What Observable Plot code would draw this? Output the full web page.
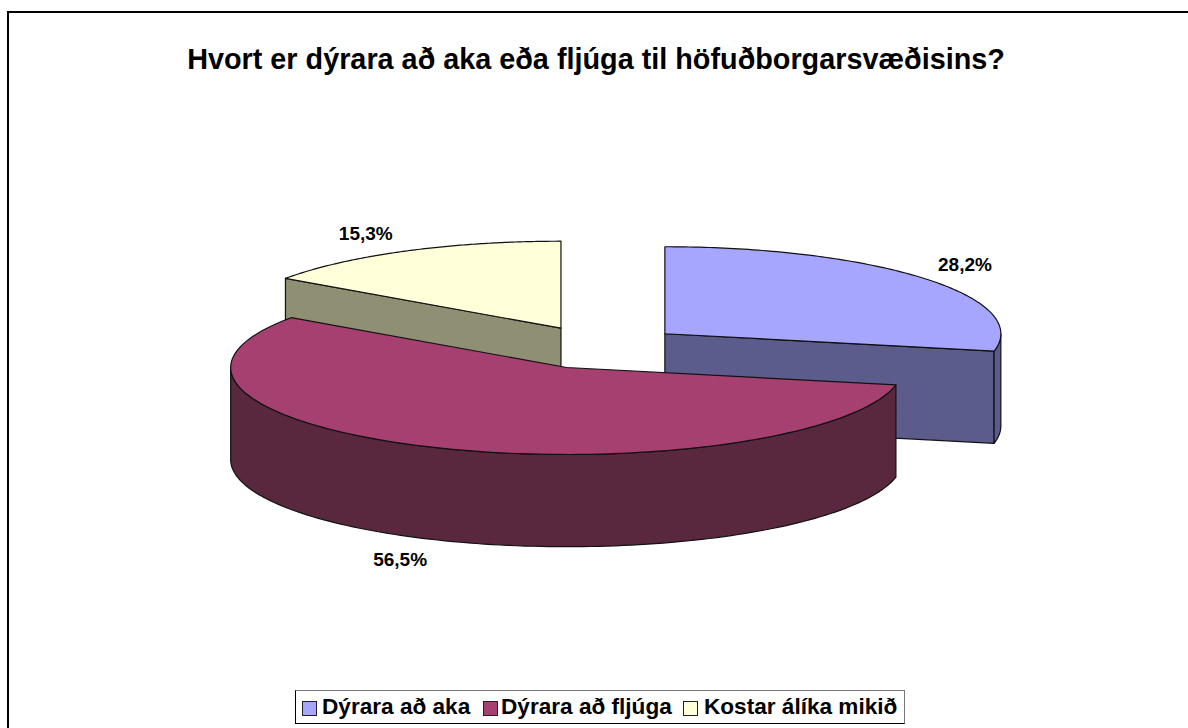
<!DOCTYPE html>
<html lang="is">
<head>
<meta charset="utf-8">
<script src="https://cdn.jsdelivr.net/npm/d3@7"></script>
<script src="https://cdn.jsdelivr.net/npm/@observablehq/plot@0.6"></script>
<style>
  html, body { margin: 0; padding: 0; background: #fff; }
  body { width: 1188px; height: 728px; overflow: hidden; position: relative; font-family: "Liberation Sans", Arial, sans-serif; }
  #frame { position: absolute; left: 7px; top: 11px; right: 0; bottom: 0; border-left: 2px solid #000; border-top: 2px solid #000; }
  #chart { position: absolute; left: 0; top: 0; }
  #chart svg { display: block; }
  h1 { position: absolute; left: 0; width: 1192px; top: 44px; margin: 0; text-align: center; font-size: 28.8px; line-height: 30px; font-weight: bold; color: #000; white-space: nowrap; }
  #legend { position: absolute; left: 295px; top: 690px; width: 608px; height: 32px; border: 1px solid #000; border-top-color: #777; border-right-color: #777; background: #fff; font-size: 22.6px; font-weight: bold; color: #000; }
  #legend span.k { position: absolute; top: 9.5px; width: 13px; height: 13px; border: 1px solid #222; }
  #legend span.t { position: absolute; top: 3px; line-height: 26px; white-space: nowrap; }
</style>
</head>
<body>
<div id="frame"></div>
<div id="chart"></div>
<h1 id="title"></h1>
<div id="legend"></div>
<script>
// ---- data ----
const title = "Hvort er dýrara að aka eða fljúga til höfuðborgarsvæðisins?";
const categories = ["Dýrara að aka", "Dýrara að fljúga", "Kostar álíka mikið"];
const shares = [28.2, 56.5, 15.3];
const percentLabels = ["28,2%", "56,5%", "15,3%"];
const topColors = ["#A6A6FF", "#A64070", "#FFFFD9"];
const sideColors = ["#5C5C8C", "#59283F", "#8F8F73"];

// ---- layout (unit pie: radius 1, y up) ----
const explode = 0.25, depth = 1.06, labelRadius = 1.25;
const labelNudgeX = [-0.075, -0.003, -0.003];   // small label shifts in the reference
const labelNudgeY = [0, 0, -0.02];
const total = d3.sum(shares);
const rad = d => d * Math.PI / 180;

let start = 0;
const slices = shares.map((s, i) => {
  const a0 = start, a1 = start + s / total * 360;
  start = a1;
  const mid = rad((a0 + a1) / 2);
  return { i, a0, a1, ox: explode * Math.sin(mid), oy: explode * Math.cos(mid), mid };
});
const rim = (sl, a, dz = 0) => ({ x: sl.ox + Math.sin(rad(a)), y: sl.oy + Math.cos(rad(a)) - dz });
const arc = (sl, a, b, dz = 0) => d3.range(0, 121).map(k => rim(sl, a + (b - a) * k / 120, dz));
const apex = (sl, dz = 0) => ({ x: sl.ox, y: sl.oy - dz });
const closed = pts => [...pts, pts[0]];

const topPoly = sl => closed([apex(sl), ...arc(sl, sl.a0, sl.a1)]);
const radialFace = (sl, a) => closed([apex(sl), rim(sl, a), rim(sl, a, depth), apex(sl, depth)]);
const wall = (sl, a, b) => closed([...arc(sl, a, b), ...arc(sl, b, a, depth)]);

const [blue, magenta, cream] = slices;
const polys = [
  [radialFace(cream, cream.a0), sideColors[2]],
  [topPoly(cream), topColors[2]],
  [radialFace(blue, blue.a1), sideColors[0]],
  [wall(blue, 90, blue.a1), sideColors[0]],
  [topPoly(blue), topColors[0]],
  [wall(magenta, magenta.a0, 270), sideColors[1]],
  [topPoly(magenta), topColors[1]]
];

const labels = slices.map(sl => {
  const below = Math.cos(sl.mid) < 0;
  return {
    text: percentLabels[sl.i],
    x: sl.ox + labelRadius * Math.sin(sl.mid) + labelNudgeX[sl.i],
    y: sl.oy + labelRadius * Math.cos(sl.mid) - (below ? depth : 0) + labelNudgeY[sl.i]
  };
});

const chart = Plot.plot({
  width: 1188, height: 728, margin: 0,
  x: { axis: null, domain: [-1, 1], range: [263.3, 935.3] },
  y: { axis: null, domain: [-1, 1], range: [434, 260] },
  style: { background: "transparent" },
  marks: [
    ...polys.map(([pts, fill]) => Plot.line(pts, {
      x: "x", y: "y", fill, stroke: "#111", strokeWidth: 1.2, strokeLinejoin: "round"
    })),
    Plot.text(labels, {
      x: "x", y: "y", text: "text", fontSize: 19, fontWeight: "bold",
      fontFamily: "Liberation Sans", fill: "#000"
    })
  ]
});
document.getElementById("chart").append(chart);
document.getElementById("title").textContent = title;

const legend = document.getElementById("legend");
const swatchX = [6, 187, 387], textX = [26, 205, 408];
categories.forEach((c, i) => {
  const k = document.createElement("span");
  k.className = "k"; k.style.left = swatchX[i] + "px"; k.style.background = topColors[i];
  const t = document.createElement("span");
  t.className = "t"; t.style.left = textX[i] + "px"; t.textContent = c;
  legend.append(k, t);
});
</script>
</body>
</html>
